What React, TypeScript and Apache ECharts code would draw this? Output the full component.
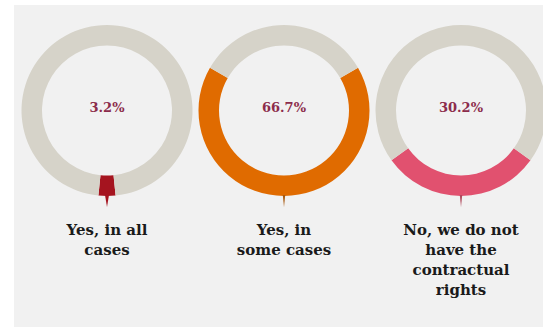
import React, { useEffect, useRef } from "react";
import * as echarts from "echarts";

const categories = ["Yes, in all\ncases", "Yes, in\nsome cases", "No, we do not\nhave the\ncontractual\nrights"];
const values = [3.2, 66.7, 30.2];
const segmentColors = ["#a5141f", "#e06b00", "#e1516f"];
const restColor = "#d6d3c9";

const centersX = [107, 284, 461];
const centerY = 110.5;
const rInner = 65;
const rOuter = 85.5;

export default function App() {
  const ref = useRef<HTMLDivElement>(null);
  useEffect(() => {
    if (!ref.current) return;
    const chart = echarts.init(ref.current, null, { renderer: "svg" });
    const series = values.map((v, i) => ({
      type: "pie",
      silent: true,
      center: [centersX[i], centerY],
      radius: [rInner, rOuter],
      startAngle: -90 + v * 1.8,
      clockwise: true,
      emphasis: { disabled: true },
      labelLine: { show: false },
      data: [
        {
          value: v,
          name: categories[i],
          itemStyle: { color: segmentColors[i] },
          label: {
            show: true,
            position: "center",
            formatter: `${v}%`,
            color: "#8c2c4b",
            fontFamily: "DejaVu Serif",
            fontWeight: "bold",
            fontSize: 13,
            offset: [0, -3],
          },
        },
        { value: +(100 - v).toFixed(1), name: "rest", itemStyle: { color: restColor }, label: { show: false } },
      ],
    }));
    const graphics: any[] = [
      { type: "rect", shape: { x: 14, y: 5, width: 543, height: 330 }, style: { fill: "#f1f1f1" }, z: -10 },
    ];
    centersX.forEach((cx, i) => {
      const w = i === 0 ? 2 : 1.2;
      graphics.push({
        type: "polygon",
        shape: { points: [[cx - w, centerY + rOuter - 1], [cx + w, centerY + rOuter - 1], [cx, centerY + rOuter + 11]] },
        style: { fill: i === 0 ? segmentColors[0] : i === 1 ? "#a85a10" : "#b04a5c" },
        z: 10,
      });
      graphics.push({
        type: "text",
        x: cx,
        y: 220,
        style: {
          text: categories[i],
          textAlign: "center",
          textVerticalAlign: "top",
          fontFamily: "DejaVu Serif",
          fontWeight: "bold",
          fontSize: 15,
          lineHeight: 20,
          fill: "#1a1a1a",
        },
        z: 10,
      });
    });
    chart.setOption({
      animation: false,
      backgroundColor: "#ffffff",
      series,
      graphic: graphics,
    });
    return () => chart.dispose();
  }, []);
  return <div ref={ref} style={{ position: "fixed", left: 0, top: 0, width: 543, height: 327 }} />;
}
